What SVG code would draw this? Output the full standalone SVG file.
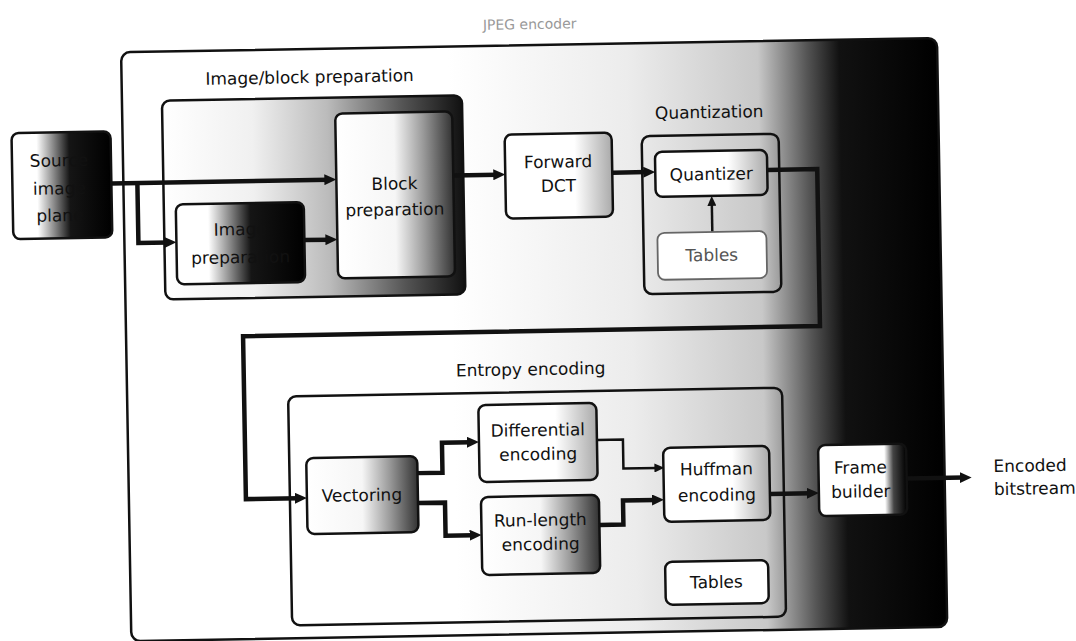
<svg xmlns="http://www.w3.org/2000/svg" width="1076" height="641" viewBox="0 0 1076 641">
<style>
.box{stroke:#111;stroke-width:2.5}
.frame{stroke:#111;stroke-width:2.5}
.lbl{font-family:"DejaVu Sans",sans-serif;font-size:17px;fill:#111;text-anchor:middle}
.flbl{font-family:"DejaVu Sans",sans-serif;font-size:17px;fill:#111;text-anchor:middle}
.conn{fill:none;stroke:#111;stroke-width:4.5;stroke-linejoin:miter}
.thin{fill:none;stroke:#111;stroke-width:2.5}
</style>
<defs>
<marker id="ah" markerWidth="13" markerHeight="11" refX="4" refY="5.5" orient="auto" markerUnits="userSpaceOnUse"><path d="M0,0 L12,5.5 L0,11 z" fill="#111"/></marker>
<marker id="ahs" markerWidth="11" markerHeight="9" refX="3" refY="4.5" orient="auto" markerUnits="userSpaceOnUse"><path d="M0,0 L10,4.5 L0,9 z" fill="#111"/></marker>
<linearGradient id="gOuter" x1="0" y1="0" x2="1" y2="0"><stop offset="0" stop-color="#fff"/><stop offset="0.4" stop-color="#fff"/><stop offset="0.62" stop-color="#ececec"/><stop offset="0.78" stop-color="#c8c8c8"/><stop offset="0.84" stop-color="#555"/><stop offset="0.88" stop-color="#111"/><stop offset="1" stop-color="#000"/></linearGradient>
<linearGradient id="gStrong" x1="0" y1="0" x2="1" y2="0"><stop offset="0" stop-color="#fff"/><stop offset="0.25" stop-color="#fff"/><stop offset="0.42" stop-color="#888"/><stop offset="0.58" stop-color="#151515"/><stop offset="1" stop-color="#000"/></linearGradient>
<linearGradient id="gFrame" x1="0" y1="0" x2="1" y2="0"><stop offset="0" stop-color="#fff"/><stop offset="0.3" stop-color="#f0f0f0"/><stop offset="0.55" stop-color="#bbb"/><stop offset="0.8" stop-color="#555"/><stop offset="1" stop-color="#111"/></linearGradient>
<linearGradient id="gMid" x1="0" y1="0" x2="1" y2="0"><stop offset="0" stop-color="#fff"/><stop offset="0.5" stop-color="#f6f6f6"/><stop offset="0.75" stop-color="#999"/><stop offset="1" stop-color="#333"/></linearGradient>
<linearGradient id="gLight" x1="0" y1="0" x2="1" y2="0"><stop offset="0" stop-color="#fff"/><stop offset="0.65" stop-color="#fff"/><stop offset="1" stop-color="#aaa"/></linearGradient>
<linearGradient id="gFB" x1="0" y1="0" x2="1" y2="0"><stop offset="0" stop-color="#fff"/><stop offset="0.75" stop-color="#fff"/><stop offset="0.85" stop-color="#444"/><stop offset="1" stop-color="#000"/></linearGradient>
</defs>
<rect x="0" y="0" width="1076" height="641" fill="#fff"/>
<g transform="rotate(-1 538 330)">
  <text id="title" x="535" y="29" font-family="DejaVu Sans, sans-serif" font-size="14" fill="#999" text-anchor="middle">JPEG encoder</text>
  <g id="jpeg-encoder"><rect class="frame" x="126" y="45" width="816" height="589" rx="9" fill="url(#gOuter)"/></g>
  <g id="image-block-preparation"><rect class="frame" x="166" y="94" width="300" height="199" rx="8" fill="url(#gFrame)"/><text class="flbl" x="314" y="79">Image/block preparation</text></g>
  <g id="quantization"><rect class="frame" x="645" y="138" width="137" height="158" rx="8" fill="none"/><text class="flbl" x="713" y="121">Quantization</text></g>
  <g id="entropy-encoding"><rect class="frame" x="287" y="392" width="494" height="229" rx="8" fill="none"/><text class="flbl" x="530" y="375">Entropy encoding</text></g>

  <g id="connectors">
    <path class="conn" d="M114,176 H331" marker-end="url(#ah)"/>
    <path class="conn" d="M140,176 V236 H170" marker-end="url(#ah)"/>
    <path class="conn" d="M306,236 H331" marker-end="url(#ah)"/>
    <path class="conn" d="M456,174 H500" marker-end="url(#ah)"/>
    <path class="conn" d="M615,174 H650" marker-end="url(#ah)"/>
    <path class="thin" d="M714,235 V206" marker-end="url(#ahs)"/>
    <path class="conn" d="M770,174 H820 V331 H243 V494 H296" marker-end="url(#ah)"/>
    <path class="conn" d="M415,471 H440 V441 H469" marker-end="url(#ah)"/>
    <path class="conn" d="M415,501 H442 V534 H470" marker-end="url(#ah)"/>
    <path class="thin" d="M595,441 H621 V470 H655" marker-end="url(#ahs)"/>
    <path class="conn" d="M596,526 H620 V502 H653" marker-end="url(#ah)"/>
    <path class="conn" d="M767,498 H808" marker-end="url(#ah)"/>
    <path class="conn" d="M904,485 H961" marker-end="url(#ah)"/>
  </g>

  <g id="source"><rect class="box" x="15" y="124" width="99" height="106" rx="7" fill="url(#gStrong)"/><text class="lbl" x="62" y="158">Source</text><text class="lbl" x="62" y="186">image</text><text class="lbl" x="62" y="213">plane</text></g>
  <g id="image-preparation"><rect class="box" x="178" y="198" width="128" height="80" rx="7" fill="url(#gStrong)"/><text class="lbl" x="242" y="230">Image</text><text class="lbl" x="242" y="258">preparation</text></g>
  <g id="block-preparation"><rect class="box" x="339" y="110" width="117" height="165" rx="7" fill="url(#gMid)"/><text class="lbl" x="397" y="187">Block</text><text class="lbl" x="397" y="213">preparation</text></g>
  <g id="forward-dct"><rect class="box" x="508" y="134" width="107" height="84" rx="7" fill="url(#gLight)"/><text class="lbl" x="561" y="168">Forward</text><text class="lbl" x="561" y="192">DCT</text></g>
  <g id="quantizer"><rect class="box" x="658" y="154" width="112" height="45" rx="7" fill="url(#gLight)"/><text class="lbl" x="714" y="183">Quantizer</text></g>
  <g id="quant-tables"><rect x="659" y="235" width="109" height="47" rx="7" fill="#fff" stroke="#666" stroke-width="1.8"/><text class="lbl" x="713" y="264" style="fill:#555">Tables</text></g>
  <g id="vectoring"><rect class="box" x="304" y="454" width="111" height="76" rx="7" fill="url(#gMid)"/><text class="lbl" x="359" y="498">Vectoring</text></g>
  <g id="differential-encoding"><rect class="box" x="477" y="404" width="118" height="77" rx="7" fill="url(#gLight)"/><text class="lbl" x="536" y="436">Differential</text><text class="lbl" x="536" y="460">encoding</text></g>
  <g id="run-length-encoding"><rect class="box" x="478" y="496" width="118" height="78" rx="7" fill="url(#gMid)"/><text class="lbl" x="537" y="526">Run-length</text><text class="lbl" x="537" y="550">encoding</text></g>
  <g id="huffman-encoding"><rect class="box" x="661" y="450" width="106" height="74" rx="7" fill="url(#gLight)"/><text class="lbl" x="714" y="478">Huffman</text><text class="lbl" x="714" y="504">encoding</text></g>
  <g id="entropy-tables"><rect class="box" x="661" y="564" width="103" height="43" rx="7" fill="#fff"/><text class="lbl" x="712" y="591">Tables</text></g>
  <g id="frame-builder"><rect class="box" x="816" y="450" width="88" height="71" rx="7" fill="url(#gFB)"/><text class="lbl" x="858" y="479">Frame</text><text class="lbl" x="858" y="503">builder</text></g>
  <g id="encoded-bitstream"><text class="lbl" x="991" y="480" style="text-anchor:start">Encoded</text><text class="lbl" x="991" y="503" style="text-anchor:start">bitstream</text></g>
</g>
</svg>
